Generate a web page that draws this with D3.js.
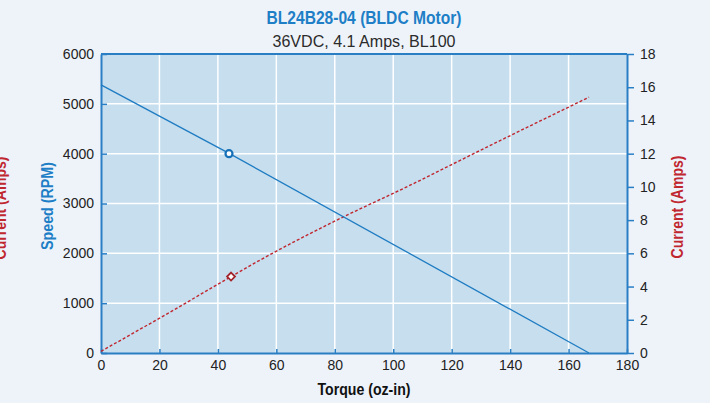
<!DOCTYPE html>
<html>
<head>
<meta charset="utf-8">
<script src="https://cdn.jsdelivr.net/npm/d3@7"></script>
<style>
  html, body { margin: 0; padding: 0; background: #eef3fa; }
  svg { display: block; font-family: "Liberation Sans", Arial, sans-serif; }
</style>
</head>
<body>
<div id="stage"></div>
<script>
(function(d3) {
    'use strict';

    // speed vs torque (rpm)
    var speedTorque = [0, 44, 167];
    var speedRpm = [5380, 4000, 0];

    // current vs torque (amps)
    var currentTorque = [0, 25, 44.5, 54.5, 78.4, 105.8, 129.8, 167];
    var currentAmps = [0.1, 2.6, 4.6, 5.6, 7.8, 10.1, 12.2, 15.4];

    // rated point markers
    var speedMark = [43.8, 4000];
    var currentMark = [44.5, 4.6];

    var xTicks = [0, 20, 40, 60, 80, 100, 120, 140, 160, 180];
    var speedTicks = [0, 1000, 2000, 3000, 4000, 5000, 6000];
    var currentTicks = [0, 2, 4, 6, 8, 10, 12, 14, 16, 18];

    var width = 710,
        height = 403,
        left = 101,
        right = 627,
        top = 54,
        bottom = 353;

    var blue = '#2a7fc4',
        red = '#c0272f';

    var svg = d3.select('#stage')
        .append('svg')
        .attr('width', width)
        .attr('height', height);

    var x = d3.scaleLinear().domain([0, 180]).range([left, right]);
    var yL = d3.scaleLinear().domain([0, 6000]).range([bottom, top]);
    var yR = d3.scaleLinear().domain([0, 18]).range([bottom, top]);

    svg.append('rect')
        .attr('x', left)
        .attr('y', top)
        .attr('width', right - left)
        .attr('height', bottom - top)
        .style('fill', '#c6deee');

    // grid
    svg.append('g').selectAll('line')
        .data(xTicks.slice(1, -1))
        .enter()
        .append('line')
        .attr('x1', function(d) { return x(d); })
        .attr('x2', function(d) { return x(d); })
        .attr('y1', top)
        .attr('y2', bottom)
        .style('stroke', '#fff')
        .style('stroke-width', 1.5);

    svg.append('g').selectAll('line')
        .data(speedTicks.slice(1, -1))
        .enter()
        .append('line')
        .attr('x1', left)
        .attr('x2', right)
        .attr('y1', function(d) { return yL(d); })
        .attr('y2', function(d) { return yL(d); })
        .style('stroke', '#fff')
        .style('stroke-width', 1.5);

    // axes
    var xAxis = svg.append('g')
        .attr('transform', 'translate(0,' + bottom + ')')
        .call(d3.axisBottom(x).tickValues(xTicks).tickFormat(d3.format('d'))
            .tickSizeInner(-4).tickSizeOuter(0).tickPadding(9));

    var lAxis = svg.append('g')
        .attr('transform', 'translate(' + left + ',0)')
        .call(d3.axisLeft(yL).tickValues(speedTicks).tickFormat(d3.format('d'))
            .tickSizeInner(-6).tickSizeOuter(0).tickPadding(7));

    var rAxis = svg.append('g')
        .attr('transform', 'translate(' + right + ',0)')
        .call(d3.axisRight(yR).tickValues(currentTicks).tickFormat(d3.format('d'))
            .tickSizeInner(7).tickSizeOuter(0).tickPadding(6));

    [xAxis, lAxis, rAxis].forEach(function(a) {
        a.select('.domain').style('stroke', blue).style('stroke-width', 2);
        a.selectAll('.tick line').style('stroke', blue).style('stroke-width', 1.5);
        a.selectAll('.tick text')
            .style('fill', '#222')
            .style('font-size', '14px');
    });
    xAxis.selectAll('.tick text').attr('dy', '0.6em');

    svg.append('line')
        .attr('x1', left)
        .attr('x2', right)
        .attr('y1', top)
        .attr('y2', top)
        .style('stroke', blue)
        .style('stroke-width', 2);

    // lines
    var speedLine = d3.line()
        .x(function(d, i) { return x(speedTorque[i]); })
        .y(function(d) { return yL(d); });

    var currentLine = d3.line()
        .curve(d3.curveMonotoneX)
        .x(function(d, i) { return x(currentTorque[i]); })
        .y(function(d) { return yR(d); });

    svg.append('path')
        .attr('d', currentLine(currentAmps))
        .style('fill', 'none')
        .style('stroke', red)
        .style('stroke-width', 1.4)
        .style('stroke-dasharray', '3,2');

    svg.append('path')
        .attr('d', speedLine(speedRpm))
        .style('fill', 'none')
        .style('stroke', '#1f7cc2')
        .style('stroke-width', 1.3);

    svg.append('circle')
        .attr('cx', x(speedMark[0]))
        .attr('cy', yL(speedMark[1]))
        .attr('r', 3.5)
        .style('fill', '#fff')
        .style('stroke', '#1570b8')
        .style('stroke-width', 2.2);

    svg.append('path')
        .attr('d', d3.symbol().type(d3.symbolDiamond2).size(40)())
        .attr('transform', 'translate(' + x(currentMark[0]) + ',' + yR(currentMark[1]) + ')')
        .style('fill', '#fff')
        .style('stroke', '#a1242a')
        .style('stroke-width', 1.8);

    // titles
    svg.append('text')
        .attr('x', 364)
        .attr('y', 24)
        .attr('text-anchor', 'middle')
        .attr('textLength', 195)
        .attr('lengthAdjust', 'spacingAndGlyphs')
        .style('font-size', '18px')
        .style('font-weight', 'bold')
        .style('fill', '#1e7fc6')
        .text('BL24B28-04 (BLDC Motor)');

    svg.append('text')
        .attr('x', 364)
        .attr('y', 47)
        .attr('text-anchor', 'middle')
        .attr('textLength', 183)
        .attr('lengthAdjust', 'spacingAndGlyphs')
        .style('font-size', '17px')
        .style('fill', '#2b2b2b')
        .text('36VDC, 4.1 Amps, BL100');

    svg.append('text')
        .attr('x', 364)
        .attr('y', 395)
        .attr('text-anchor', 'middle')
        .attr('textLength', 93)
        .attr('lengthAdjust', 'spacingAndGlyphs')
        .style('font-size', '16px')
        .style('font-weight', 'bold')
        .style('fill', '#111')
        .text('Torque (oz-in)');

    function sideLabel(cx, cy, len, color) {
        svg.append('text')
            .attr('transform', 'translate(' + cx + ',' + cy + ') rotate(-90)')
            .attr('text-anchor', 'middle')
            .attr('textLength', len)
            .attr('lengthAdjust', 'spacingAndGlyphs')
            .style('font-size', '16px')
            .style('font-weight', 'bold')
            .style('fill', color)
            .text(this);
    }

    sideLabel.call('Speed (RPM)', 53, 206, 88, '#1e7fc6');
    sideLabel.call('Current (Amps)', 683, 207, 103, red);
    sideLabel.call('Current (Amps)', 6, 208, 103, red);

})(window.d3);
</script>
</body>
</html>
